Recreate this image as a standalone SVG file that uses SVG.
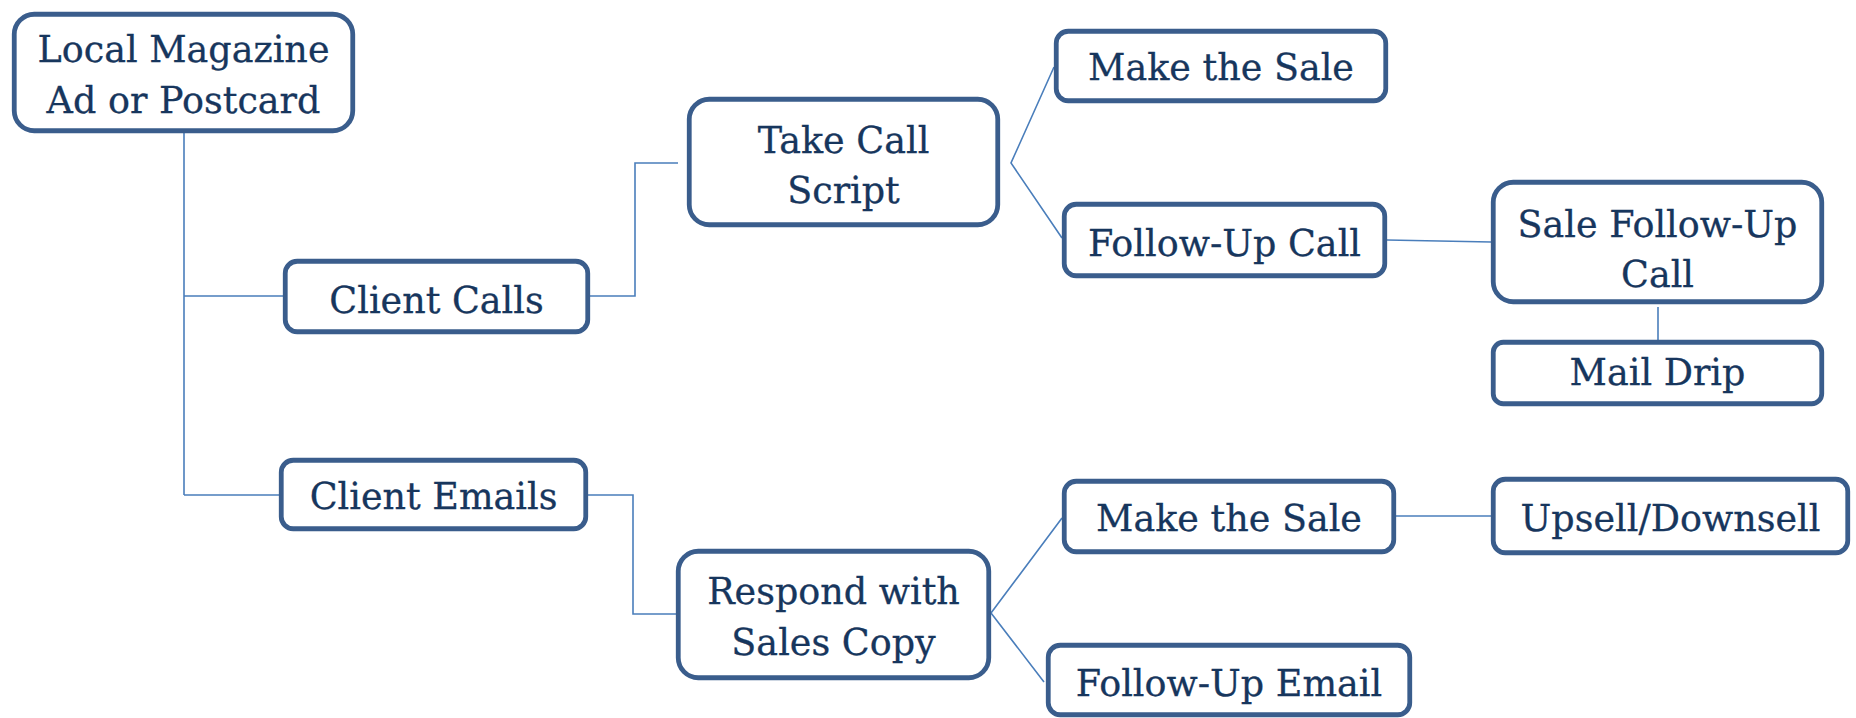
<svg xmlns="http://www.w3.org/2000/svg" width="1856" height="718" viewBox="0 0 1856 718">
<style>
.box{fill:#ffffff;stroke:#3a5d8c;stroke-width:4.8}
.t{font-family:"DejaVu Serif","Liberation Serif",serif;font-size:36.5px;fill:#17365d;stroke:#17365d;stroke-width:0.3;text-anchor:middle}
.c{fill:none;stroke:#4a7ebb;stroke-width:1.6}
</style>
<rect width="1856" height="718" fill="#ffffff"/>
<g id="connectors">
<path class="c" d="M184,133 V495 M184,296 H283 M184,495 H279"/>
<path class="c" d="M590,296 H635 V163 H678"/>
<path class="c" d="M1054,67 L1011,163 L1062,238"/>
<path class="c" d="M1387,240 L1491,242"/>
<path class="c" d="M1658,307 V344"/>
<path class="c" d="M588,495 H633 V614 H676"/>
<path class="c" d="M1062,518 L991,613 L1044,682"/>
<path class="c" d="M1396,516 H1491"/>
</g>
<g id="root"><rect class="box" x="14.25" y="14.25" width="338.5" height="116.5" rx="20"/><text class="t" x="183.5" y="62">Local Magazine</text><text class="t" x="183.5" y="113">Ad or Postcard</text></g>
<g id="client-calls"><rect class="box" x="285.25" y="261.25" width="302.5" height="70.5" rx="12"/><text class="t" x="436.5" y="313">Client Calls</text></g>
<g id="client-emails"><rect class="box" x="281.25" y="460.25" width="304.5" height="68.5" rx="12"/><text class="t" x="433.5" y="509">Client Emails</text></g>
<g id="take-call"><rect class="box" x="689.25" y="99.25" width="308.5" height="125.5" rx="20"/><text class="t" x="843.5" y="153">Take Call</text><text class="t" x="843.5" y="203">Script</text></g>
<g id="make-sale-1"><rect class="box" x="1056.25" y="31.25" width="329.5" height="69.5" rx="12"/><text class="t" x="1221" y="80">Make the Sale</text></g>
<g id="follow-up-call"><rect class="box" x="1064.25" y="204.25" width="320.5" height="71.5" rx="12"/><text class="t" x="1224.5" y="256">Follow-Up Call</text></g>
<g id="sale-follow-up"><rect class="box" x="1493.25" y="182.25" width="328.5" height="119.5" rx="20"/><text class="t" x="1657.5" y="237">Sale Follow-Up</text><text class="t" x="1657.5" y="287">Call</text></g>
<g id="mail-drip"><rect class="box" x="1493.25" y="342.25" width="328.5" height="61.5" rx="10"/><text class="t" x="1657.5" y="385">Mail Drip</text></g>
<g id="respond"><rect class="box" x="678.25" y="551.25" width="310.5" height="126.5" rx="20"/><text class="t" x="833.5" y="604">Respond with</text><text class="t" x="833.5" y="655">Sales Copy</text></g>
<g id="make-sale-2"><rect class="box" x="1064.25" y="481.25" width="329.5" height="70.5" rx="12"/><text class="t" x="1229" y="531">Make the Sale</text></g>
<g id="upsell"><rect class="box" x="1493.25" y="479.25" width="354.5" height="73.5" rx="12"/><text class="t" x="1670.5" y="531">Upsell/Downsell</text></g>
<g id="follow-up-email"><rect class="box" x="1048.25" y="645.25" width="361.5" height="69.5" rx="12"/><text class="t" x="1229" y="696">Follow-Up Email</text></g>
</svg>
